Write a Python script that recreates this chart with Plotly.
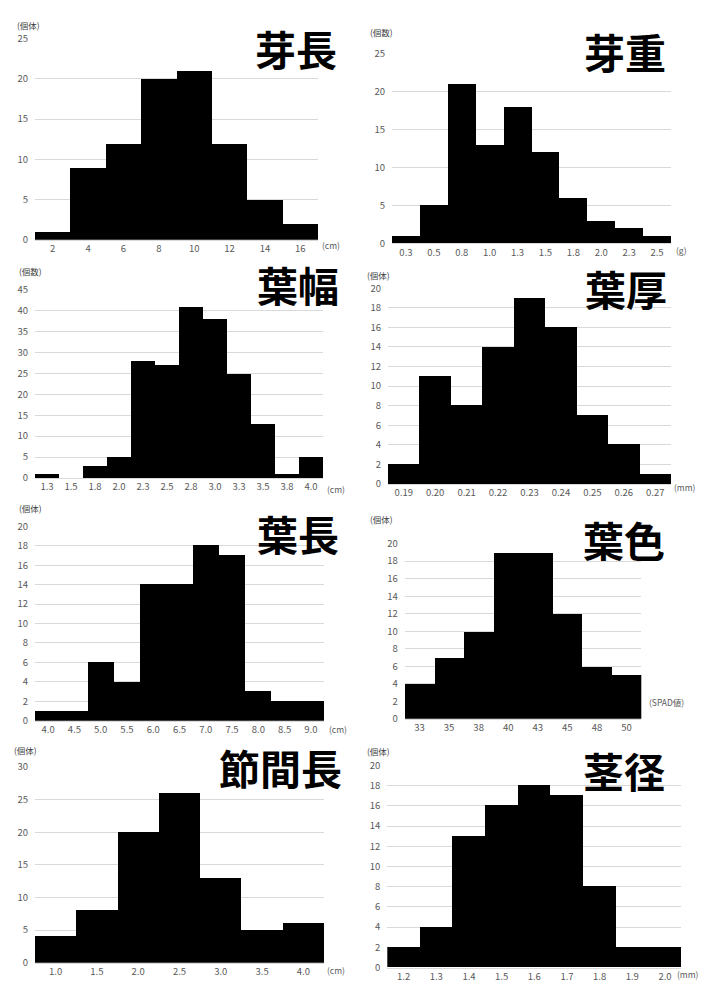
import plotly.graph_objects as go

W, H = 706, 992

# ---- data ----
titles = ["芽長", "芽重", "葉幅", "葉厚", "葉長", "葉色", "節間長", "茎径"]
y_units = ["(個体)", "(個数)", "(個数)", "(個体)", "(個体)", "(個体)", "(個体)", "(個体)"]
x_units = ["(cm)", "(g)", "(cm)", "(mm)", "(cm)", "(SPAD値)", "(cm)", "(mm)"]

cat_me_naga = ["2", "4", "6", "8", "10", "12", "14", "16"]
val_me_naga = [1, 9, 12, 20, 21, 12, 5, 2]

cat_me_omo = ["0.3", "0.5", "0.8", "1.0", "1.3", "1.5", "1.8", "2.0", "2.3", "2.5"]
val_me_omo = [1, 5, 21, 13, 18, 12, 6, 3, 2, 1]

cat_ha_haba = ["1.3", "1.5", "1.8", "2.0", "2.3", "2.5", "2.8", "3.0", "3.3", "3.5", "3.8", "4.0"]
val_ha_haba = [1, 0, 3, 5, 28, 27, 41, 38, 25, 13, 1, 5]

cat_ha_atsu = ["0.19", "0.20", "0.21", "0.22", "0.23", "0.24", "0.25", "0.26", "0.27"]
val_ha_atsu = [2, 11, 8, 14, 19, 16, 7, 4, 1]

cat_ha_naga = ["4.0", "4.5", "5.0", "5.5", "6.0", "6.5", "7.0", "7.5", "8.0", "8.5", "9.0"]
val_ha_naga = [1, 1, 6, 4, 14, 14, 18, 17, 3, 2, 2]

cat_ha_iro = ["33", "35", "38", "40", "43", "45", "48", "50"]
val_ha_iro = [4, 7, 10, 19, 19, 12, 6, 5]

cat_setsu = ["1.0", "1.5", "2.0", "2.5", "3.0", "3.5", "4.0"]
val_setsu = [4, 8, 20, 26, 13, 5, 6]

cat_kei = ["1.2", "1.3", "1.4", "1.5", "1.6", "1.7", "1.8", "1.9", "2.0"]
val_kei = [2, 4, 13, 16, 18, 17, 8, 2, 2]

categories = [cat_me_naga, cat_me_omo, cat_ha_haba, cat_ha_atsu,
              cat_ha_naga, cat_ha_iro, cat_setsu, cat_kei]
values = [val_me_naga, val_me_omo, val_ha_haba, val_ha_atsu,
          val_ha_naga, val_ha_iro, val_setsu, val_kei]
y_max = [25, 25, 45, 20, 20, 20, 30, 20]
y_step = [5, 5, 5, 2, 2, 2, 5, 2]

# ---- layout (pixel boxes: x0, x1, ytop, ybottom) ----
boxes = [
    (35, 318, 31, 235),
    (392, 671, 46.7, 238.7),
    (35, 323, 285.7, 476.7),
    (388, 671, 284.3, 482.7),
    (35, 324, 525.7, 723),
    (404.7, 641.3, 543.3, 721),
    (35, 324, 770, 968.3),
    (387.3, 681.3, 768.3, 973.3),
]
title_pos = [(296, 41), (624.5, 44), (298, 280), (625.5, 284),
             (298, 532.5), (624, 539), (280, 770), (624, 772.5)]
yunit_pos = [(28, 17), (381, 24), (30, 267), (378, 271),
             (30, 507), (381, 518), (25, 753), (378, 754)]
xunit_pos = [(331, 240), (681, 245), (336, 488), (685, 486),
             (338, 731), (666, 704), (336, 976), (688, 980)]

FONT = "Noto Sans CJK JP, Noto Sans, sans-serif"
TICK_COLOR = "#595959"
GRID = "#d9d9d9"

def px(x):
    return x / W

def py(y):
    return 1 - y / H

fig = go.Figure()
annotations = []
layout = {}
for i in range(8):
    n = "" if i == 0 else str(i + 1)
    fig.add_trace(go.Bar(
        x=categories[i], y=values[i],
        xaxis="x" + n, yaxis="y" + n,
        marker=dict(color="black", line=dict(width=0)),
        showlegend=False,
    ))
    x0, x1, yt, yb = boxes[i]
    layout["xaxis" + n] = dict(
        domain=[px(x0), px(x1)], anchor="y" + n, type="category",
        showgrid=False, showline=True, linecolor=GRID, linewidth=1,
        ticks="", tickfont=dict(size=9.5, color=TICK_COLOR, family=FONT),
        fixedrange=True,
    )
    layout["yaxis" + n] = dict(
        domain=[py(yb), py(yt)], anchor="x" + n,
        range=[0, y_max[i]], dtick=y_step[i], tick0=0,
        showgrid=True, gridcolor=GRID, gridwidth=1,
        zeroline=False, showline=False,
        ticks="outside", ticklen=4, tickcolor="rgba(0,0,0,0)",
        tickfont=dict(size=9.5, color=TICK_COLOR, family=FONT),
        fixedrange=True,
    )
    tx, ty = title_pos[i]
    annotations.append(dict(
        text="<b>" + titles[i] + "</b>", x=px(tx), y=py(ty),
        xref="paper", yref="paper", xanchor="center", yanchor="middle",
        height=44, valign="middle", borderpad=0,
        showarrow=False, font=dict(size=41, color="black", family=FONT),
    ))
    ux, uy = yunit_pos[i]
    annotations.append(dict(
        text=y_units[i], x=px(ux), y=py(uy),
        xref="paper", yref="paper", xanchor="center", yanchor="middle",
        showarrow=False, font=dict(size=8.5, color="#404040", family=FONT),
    ))
    vx, vy = xunit_pos[i]
    annotations.append(dict(
        text=x_units[i], x=px(vx), y=py(vy),
        xref="paper", yref="paper", xanchor="center", yanchor="middle",
        showarrow=False, font=dict(size=8.5, color=TICK_COLOR, family=FONT),
    ))

fig.update_layout(
    width=W, height=H,
    margin=dict(l=0, r=0, t=0, b=0),
    paper_bgcolor="white", plot_bgcolor="white",
    bargap=0,
    annotations=annotations,
    **layout,
)

fig.write_html("out.html", config={"displayModeBar": False})
